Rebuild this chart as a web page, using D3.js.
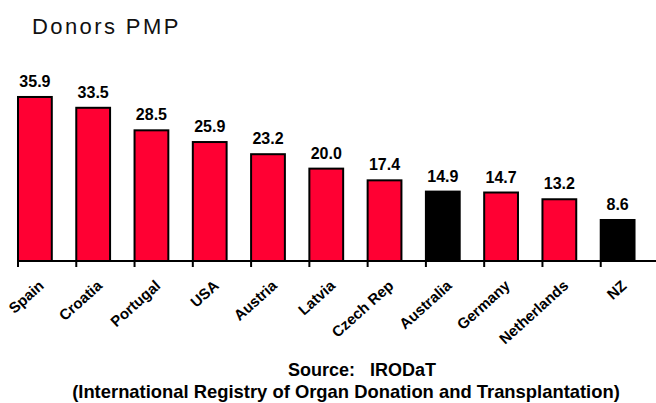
<!DOCTYPE html>
<html>
<head>
<meta charset="utf-8">
<script src="https://cdn.jsdelivr.net/npm/d3@7"></script>
<style>
  body { margin: 0; background: #fff; }
  svg { display: block; font-family: "Liberation Sans", Arial, sans-serif; }
</style>
</head>
<body>
<svg id="chart"></svg>
<script>
const countries = ['Spain', 'Croatia', 'Portugal', 'USA', 'Austria', 'Latvia',
   'Czech Rep', 'Australia', 'Germany', 'Netherlands', 'NZ'];
const donorsPmp = [35.9, 33.5, 28.5, 25.9, 23.2, 20.0, 17.4, 14.9, 14.7, 13.2, 8.6];
const highlighted = ['Australia', 'NZ'];

const width = 656, height = 403;
const baseY = 261;

const data = countries.map((c, i) => ({ country: c, value: donorsPmp[i] }));

const svg = d3.select('#chart').attr('width', width).attr('height', height);

// bands start at each tick, bar sits at left part of band
const x = d3.scaleBand().domain(countries).range([18, 659]).padding(0);
const barW = x.bandwidth() * 0.58;

const y = d3.scaleLinear().domain([-0.5, 40]).range([baseY, 78.5]);

svg.append('text')
   .attr('x', 32).attr('y', 34)
   .attr('font-size', 22)
   .attr('letter-spacing', 2.4)
   .attr('fill', '#111')
   .text('Donors PMP');

const chart = svg.append('g');

chart.selectAll('rect.bar')
   .data(data)
   .join('rect')
   .attr('class', 'bar')
   .attr('x', (d) => x(d.country))
   .attr('y', (d) => y(d.value))
   .attr('width', barW)
   .attr('height', (d) => baseY - y(d.value))
   .attr('fill', (d) => (highlighted.includes(d.country) ? '#000' : '#ff0033'))
   .attr('stroke', '#000')
   .attr('stroke-width', 2);

chart.selectAll('text.val')
   .data(data)
   .join('text')
   .attr('class', 'val')
   .attr('x', (d) => x(d.country) + barW / 2)
   .attr('y', (d) => y(d.value) - 10)
   .attr('text-anchor', 'middle')
   .attr('font-size', 16)
   .attr('font-weight', 'bold')
   .text((d) => d.value.toFixed(1));

// axis line and ticks at band edges
chart.append('line')
   .attr('x1', 18).attr('x2', width)
   .attr('y1', baseY).attr('y2', baseY)
   .attr('stroke', '#000').attr('stroke-width', 2);

chart.selectAll('line.tick')
   .data(countries)
   .join('line')
   .attr('class', 'tick')
   .attr('x1', (d) => x(d)).attr('x2', (d) => x(d))
   .attr('y1', baseY).attr('y2', baseY + 6)
   .attr('stroke', '#000').attr('stroke-width', 2);

chart.selectAll('text.cat')
   .data(countries)
   .join('text')
   .attr('class', 'cat')
   .attr('text-anchor', 'end')
   .attr('font-size', 15)
   .attr('font-weight', 'bold')
   .attr('transform', (d) => `translate(${x(d) + barW / 2 + 10}, 287) rotate(-42)`)
   .text((d) => d);

svg.append('text')
   .attr('x', 362).attr('y', 376)
   .attr('text-anchor', 'middle')
   .attr('font-size', 18)
   .attr('font-weight', 'bold')
   .attr('xml:space', 'preserve')
   .text('Source:   IRODaT');

svg.append('text')
   .attr('x', 346).attr('y', 398)
   .attr('text-anchor', 'middle')
   .attr('font-size', 18.4)
   .attr('font-weight', 'bold')
   .text('(International Registry of Organ Donation and Transplantation)');
</script>
</body>
</html>
